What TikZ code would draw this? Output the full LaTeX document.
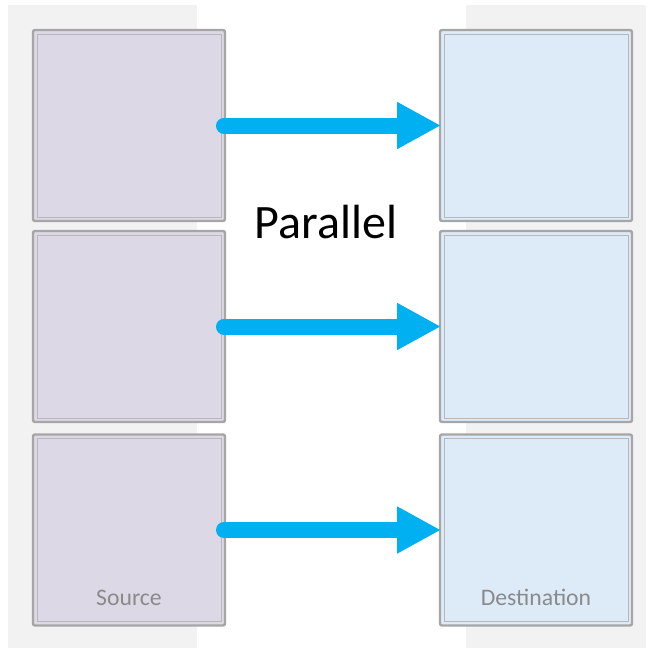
\documentclass[tikz,border=0pt]{standalone}
\usepackage{fontspec}
\setmainfont{Carlito}
\usetikzlibrary{arrows.meta,calc}

\definecolor{panelgray}{HTML}{F2F2F2}
\definecolor{srcfill}{HTML}{DDD8E5}
\definecolor{dstfill}{HTML}{DDEBF9}
\definecolor{framegray}{HTML}{A6A6A6}
\definecolor{innergray}{HTML}{B8B8B8}
\definecolor{labelgray}{HTML}{8A8A8A}
\definecolor{flowblue}{HTML}{00B0F0}

\tikzset{
  panel/.style={fill=panelgray, draw=none},
  databox/.style={draw=framegray, line width=2.4pt, rounded corners=2pt,
    minimum width=192pt, minimum height=191pt, inner sep=0pt, outer sep=0pt},
  srcbox/.style={databox, fill=srcfill},
  dstbox/.style={databox, fill=dstfill},
  innerframe/.style={draw=innergray, line width=0.9pt},
  flow/.style={draw=flowblue, line width=16pt, line cap=round,
    -{Triangle[length=44pt,width=44pt]}, shorten <=-1pt, shorten >=-1pt},
  caption/.style={font=\fontsize{23.7}{28}\selectfont, text=labelgray, anchor=base},
  title/.style={font=\fontsize{48}{58}\selectfont, text=black}
}

\begin{document}
\begin{tikzpicture}[x=1pt,y=-1pt]
  \useasboundingbox (0,0) rectangle (646,648);

  % column backgrounds
  \fill[panel] (8,5) rectangle (197,648);
  \fill[panel] (466,5) rectangle (646,648);

  % source and destination partitions
  \node[srcbox] (s1) at (129,125.5) {};
  \node[srcbox] (s2) at (129,326.5) {};
  \node[srcbox] (s3) at (129,530) {};
  \node[dstbox] (d1) at (536,125.5) {};
  \node[dstbox] (d2) at (536,326.5) {};
  \node[dstbox] (d3) at (536,530) {};

  % inner frame lines
  \foreach \n in {s1,s2,s3,d1,d2,d3}
    \draw[innerframe] ($(\n.north west)+(4,4)$) rectangle ($(\n.south east)+(-4,-4)$);

  % parallel copy arrows
  \draw[flow] (s1.east) -- (d1.west);
  \draw[flow] (s2.east) -- (d2.west);
  \draw[flow] (s3.east) -- (d3.west);

  % labels
  \node[title] (par) at (326,222) {Parallel};
  \node[caption] (srclabel) at (129,605) {Source};
  \node[caption] (dstlabel) at (536,605) {Destination};
\end{tikzpicture}
\end{document}
